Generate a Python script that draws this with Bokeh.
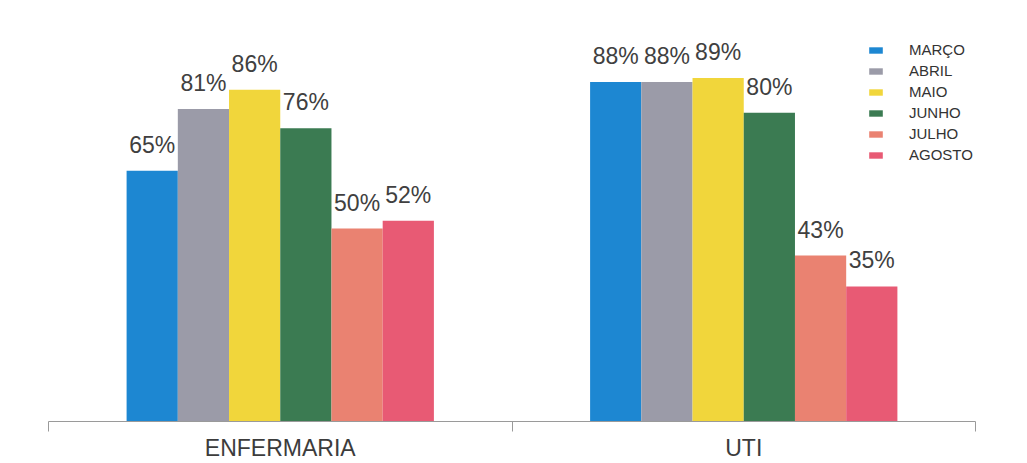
from bokeh.plotting import figure
from bokeh.models import ColumnDataSource, Range1d, FixedTicker, Legend, LegendItem
from bokeh.transform import dodge
from bokeh.core.properties import value
from bokeh.embed import file_html
from bokeh.resources import INLINE

categories = ["ENFERMARIA", "UTI"]
months = ["MARÇO", "ABRIL", "MAIO", "JUNHO", "JULHO", "AGOSTO"]
marco = [65, 88]
abril = [81, 88]
maio = [86, 89]
junho = [76, 80]
julho = [50, 43]
agosto = [52, 35]
colors = ["#1d87d2", "#9b9ba8", "#f1d63b", "#3b7b52", "#ea8271", "#e85a74"]

series = [marco, abril, maio, junho, julho, agosto]
centers = [i + 0.5 for i in range(len(categories))]

data = {"x": centers}
for j, s in enumerate(series):
    data[f"v{j}"] = s
    data[f"t{j}"] = [f"{v}%" for v in s]
source = ColumnDataSource(data)

FONT = "Liberation Sans"
p = figure(width=1027, height=463, x_range=Range1d(0, len(categories)), y_range=Range1d(0, 106),
           output_backend="svg", toolbar_location=None,
           min_border_left=48, min_border_right=52, min_border_top=12, min_border_bottom=40)
p.outline_line_color = None
p.xgrid.visible = False
p.ygrid.visible = False
p.yaxis.visible = False

bw = 0.1105
items = []
for j, m in enumerate(months):
    off = (j - 2.5) * bw
    r = p.vbar(x=dodge("x", off, range=p.x_range), top=f"v{j}", width=bw, source=source,
               fill_color=colors[j], line_color=None)
    p.text(x=dodge("x", off, range=p.x_range), y=f"v{j}", text=f"t{j}", source=source,
           text_align="center", text_baseline="alphabetic", y_offset=-26,
           text_font=value(FONT), text_font_size="23px", text_color="#404040")
    items.append(LegendItem(label=m, renderers=[r]))

ax = p.xaxis[0]
ax.ticker = FixedTicker(ticks=centers, minor_ticks=list(range(len(categories) + 1)))
ax.major_label_overrides = {c: n for c, n in zip(centers, categories)}
ax.major_tick_line_color = None
ax.major_tick_out = 10
ax.major_tick_in = 0
ax.minor_tick_out = 10
ax.minor_tick_in = 0
ax.minor_tick_line_color = "#9a9a9a"
ax.axis_line_color = "#9a9a9a"
ax.major_label_text_font = FONT
ax.major_label_text_font_size = "23px"
ax.major_label_text_color = "#3c3c3c"
ax.major_label_standoff = 3

legend = Legend(items=items, location=(819, 258))
legend.border_line_color = None
legend.background_fill_alpha = 0
legend.padding = 0
legend.margin = 0
legend.glyph_width = 17
legend.glyph_height = 8
legend.label_height = 15
legend.spacing = 4
legend.label_standoff = 25
legend.label_text_font = FONT
legend.label_text_font_size = "15px"
legend.label_text_color = "#333333"
p.add_layout(legend, "center")

open("out.html", "w").write(file_html(p, INLINE))
